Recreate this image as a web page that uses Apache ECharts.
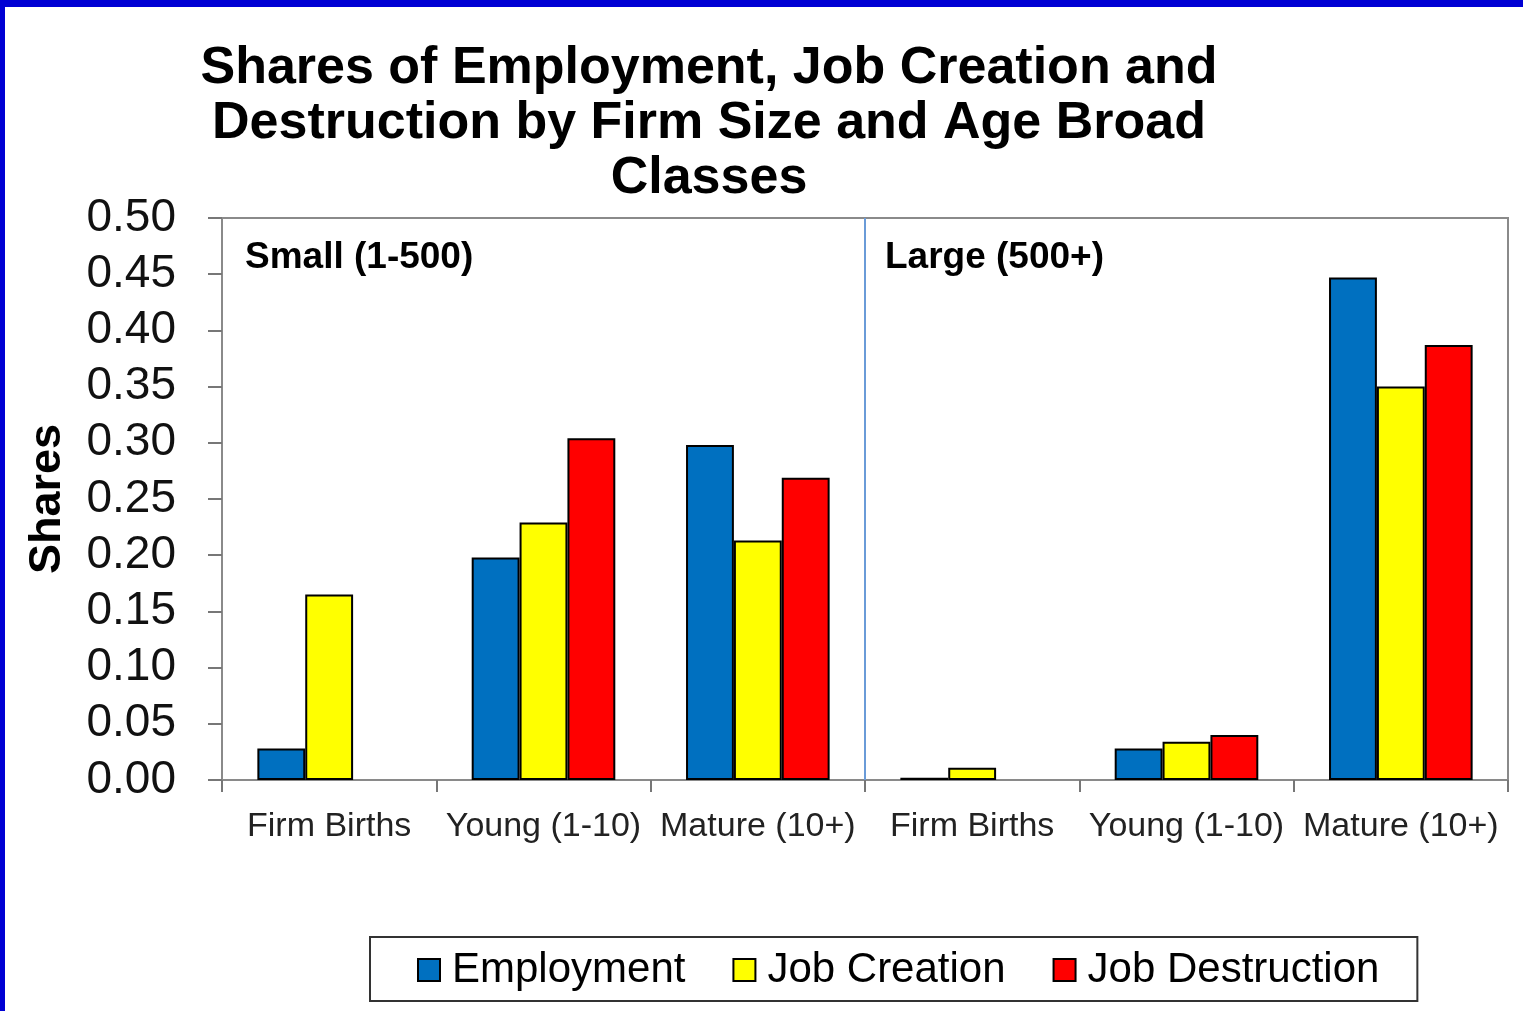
<!DOCTYPE html>
<html>
<head>
<meta charset="utf-8">
<script src="https://cdn.jsdelivr.net/npm/echarts@6/dist/echarts.min.js"></script>
<style>
  html, body { margin: 0; padding: 0; background: #fff; }
  #chart { position: absolute; left: 0; top: 0; width: 1523px; height: 1011px; }
  .edge { position: absolute; background: #0000d4; pointer-events: none; }
</style>
</head>
<body>
<div id="chart"></div>
<div class="edge" style="left:0;top:0;width:1523px;height:7px"></div>
<div class="edge" style="left:0;top:0;width:5px;height:1011px"></div>
<script>
// categories: small firms first, then large firms
const categories = ['small-births', 'small-young', 'small-mature', 'large-births', 'large-young', 'large-mature']
const tickLabels = ['Firm Births', 'Young (1-10)', 'Mature (10+)', 'Firm Births', 'Young (1-10)', 'Mature (10+)']
const seriesNames = ['Employment', 'Job Creation', 'Job Destruction']
const employment = [0.028, 0.198, 0.298, 0.002, 0.028, 0.447]
const jobCreation = [0.165, 0.229, 0.213, 0.011, 0.034, 0.350]
// no destruction bar is drawn for firm births
const jobDestruction = [null, 0.304, 0.269, null, 0.040, 0.387]
const colors = ['#0070C0', '#FFFF00', '#FF0000']
const divider = [[3, 0], [3, 0.5]]

const chart = echarts.init(document.getElementById('chart'))

const bar = (name, data, color) => ({
  name: name,
  type: 'bar',
  data: data,
  barGap: '0%',
  barCategoryGap: '33%',
  itemStyle: { color: color, borderColor: '#000', borderWidth: 2 },
  silent: true
})

const option = {
  animation: false,
  backgroundColor: '#fff',
  title: {
    text: 'Shares of Employment, Job Creation and\nDestruction by Firm Size and Age Broad\nClasses',
    left: 704,
    top: 36,
    textAlign: 'center',
    textStyle: {
      fontFamily: 'Liberation Sans',
      fontWeight: 'bold',
      fontSize: 52,
      lineHeight: 55,
      color: '#000'
    }
  },
  legend: {
    data: seriesNames,
    left: 370,
    top: 937,
    padding: [12, 38, 10, 47],
    itemGap: 47,
    itemWidth: 22,
    itemHeight: 22,
    icon: 'rect',
    borderColor: '#333',
    borderWidth: 2,
    textStyle: {
      fontFamily: 'Liberation Sans',
      fontSize: 42,
      color: '#000',
      padding: [0, 0, 0, 7]
    }
  },
  grid: {
    left: 222,
    right: 15,
    top: 218,
    bottom: 231,
    show: true,
    borderColor: '#8a8a8a',
    borderWidth: 2
  },
  xAxis: [
    {
      type: 'category',
      data: categories,
      axisLine: { lineStyle: { color: '#8a8a8a', width: 2 } },
      axisTick: { show: true, interval: 0, length: 12, lineStyle: { color: '#777', width: 2 } },
      axisLabel: {
        interval: 0,
        margin: 30,
        fontFamily: 'Liberation Sans',
        fontSize: 34,
        color: '#222',
        formatter: (v, i) => tickLabels[i]
      }
    },
    {
      type: 'value',
      min: 0,
      max: categories.length,
      show: false
    }
  ],
  yAxis: {
    type: 'value',
    min: 0,
    max: 0.5,
    interval: 0.05,
    name: 'Shares',
    nameLocation: 'middle',
    nameGap: 152,
    nameTextStyle: {
      fontFamily: 'Liberation Sans',
      fontWeight: 'bold',
      fontSize: 45,
      color: '#000'
    },
    splitLine: { show: false },
    axisLine: { show: true, lineStyle: { color: '#8a8a8a', width: 2 } },
    axisTick: { show: true, length: 14, lineStyle: { color: '#777', width: 2 } },
    axisLabel: {
      margin: 46,
      fontFamily: 'Liberation Sans',
      fontSize: 46,
      color: '#111',
      formatter: v => v.toFixed(2)
    }
  },
  graphic: [
    {
      type: 'text',
      left: 245,
      top: 239,
      style: { text: 'Small (1-500)', font: 'bold 37px "Liberation Sans"', fill: '#000' }
    },
    {
      type: 'text',
      left: 885,
      top: 239,
      style: { text: 'Large (500+)', font: 'bold 37px "Liberation Sans"', fill: '#000' }
    }
  ],
  series: [
    bar(seriesNames[0], employment, colors[0]),
    bar(seriesNames[1], jobCreation, colors[1]),
    bar(seriesNames[2], jobDestruction, colors[2]),
    {
      name: 'divider',
      type: 'line',
      xAxisIndex: 1,
      data: divider,
      symbol: 'none',
      silent: true,
      z: 1,
      lineStyle: { color: '#6a9bd8', width: 2 }
    }
  ]
}

chart.setOption(option)
</script>
</body>
</html>
